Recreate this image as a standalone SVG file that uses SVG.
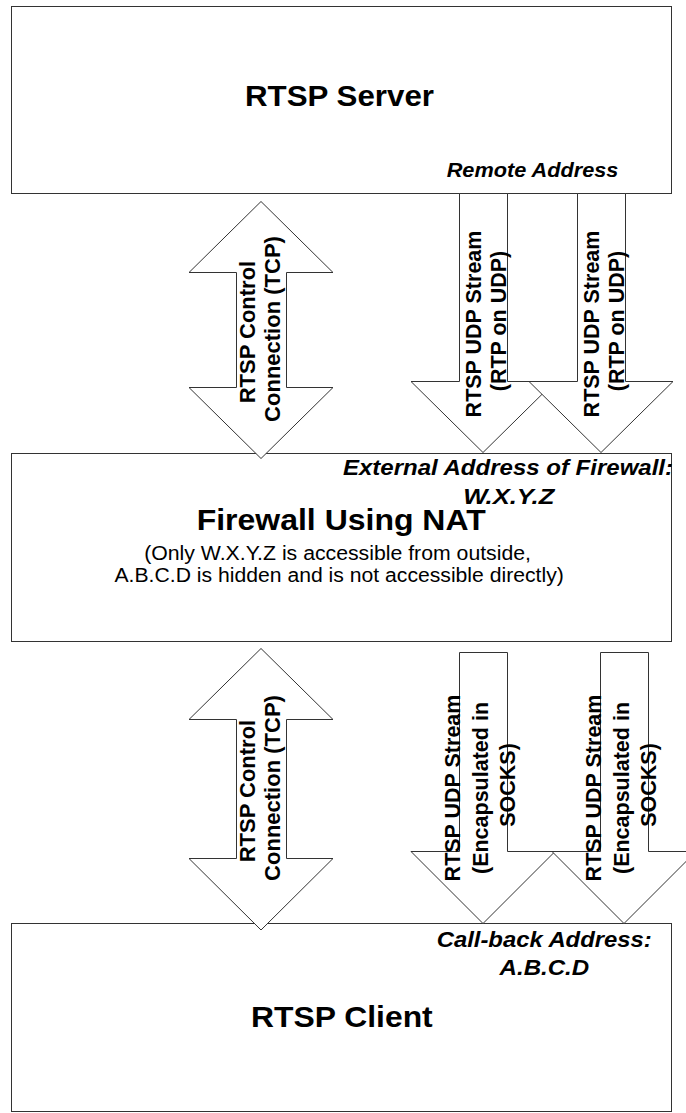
<svg xmlns="http://www.w3.org/2000/svg" width="686" height="1113" viewBox="0 0 686 1113">
  <style>
    .box { fill: #fff; stroke: #333; stroke-width: 1; }
    .arrow { fill: #fff; stroke: #333; stroke-width: 1; stroke-linejoin: miter; }
    text { font-family: "Liberation Sans", Arial, Helvetica, sans-serif; fill: #000; }
    .title { font-size: 30px; font-weight: bold; }
    .addr { font-size: 22.5px; font-weight: bold; font-style: italic; }
    .addr-sm { font-size: 20.5px; font-weight: bold; font-style: italic; }
    .note { font-size: 20px; }
    .flow { font-size: 21.5px; font-weight: bold; text-anchor: middle; }
    .flow-lg { font-size: 22px; font-weight: bold; text-anchor: middle; }
  </style>

  <rect width="686" height="1113" fill="#fff"/>

  <!-- RTSP server -->
  <g id="server">
    <rect class="box" x="11.5" y="6.5" width="660" height="187"/>
    <text class="title" x="245" y="106" textLength="189" lengthAdjust="spacingAndGlyphs">RTSP Server</text>
    <text class="addr-sm" x="446.7" y="176.7" textLength="171.7" lengthAdjust="spacingAndGlyphs">Remote Address</text>
  </g>

  <!-- NAT firewall -->
  <g id="firewall">
    <rect class="box" x="11.5" y="453.5" width="660" height="188"/>
    <text class="addr" x="343" y="475" textLength="330" lengthAdjust="spacingAndGlyphs">External Address of Firewall:</text>
    <text class="addr" x="463.3" y="503.5" textLength="91" lengthAdjust="spacingAndGlyphs">W.X.Y.Z</text>
    <text class="title" x="196.7" y="530" textLength="289" lengthAdjust="spacingAndGlyphs">Firewall Using NAT</text>
    <text class="note" x="144.2" y="560" textLength="386.8" lengthAdjust="spacingAndGlyphs">(Only W.X.Y.Z is accessible from outside,</text>
    <text class="note" x="114.5" y="581.7" textLength="449.3" lengthAdjust="spacingAndGlyphs">A.B.C.D is hidden and is not accessible directly)</text>
  </g>

  <!-- RTSP client -->
  <g id="client">
    <rect class="box" x="11.5" y="923.5" width="660" height="188"/>
    <text class="addr" x="436.7" y="946.5" textLength="215" lengthAdjust="spacingAndGlyphs">Call-back Address:</text>
    <text class="addr" x="499.6" y="975" textLength="89.6" lengthAdjust="spacingAndGlyphs">A.B.C.D</text>
    <text class="title" x="251" y="1027" textLength="181.7" lengthAdjust="spacingAndGlyphs">RTSP Client</text>
  </g>

  <!-- block arrows between the boxes -->
  <g id="connectors">
    <!-- server <-> firewall control channel -->
    <polygon class="arrow" points="261,201.5 333,272.5 286.5,272.5 286.5,387.5 333,387.5 261,458.5 189,387.5 236.5,387.5 236.5,272.5 189,272.5"/>
    <text class="flow-lg" transform="translate(254.5 329) rotate(-90)">
      <tspan x="0" y="0">RTSP Control</tspan>
      <tspan x="0" y="25">Connection (TCP)</tspan>
    </text>

    <!-- server -> firewall media streams -->
    <polygon class="arrow" points="459.5,193.5 507.5,193.5 507.5,381.5 555,381.5 483,452.5 411,381.5 459.5,381.5"/>
    <polygon class="arrow" points="577.5,193.5 625.5,193.5 625.5,381.5 673,381.5 601,452.5 529,381.5 577.5,381.5"/>
    <text class="flow" transform="translate(480.5 321) rotate(-90)">
      <tspan x="0" y="0">RTSP UDP Stream</tspan>
      <tspan x="0" y="25.5">(RTP on UDP)</tspan>
    </text>
    <text class="flow" transform="translate(598.5 321) rotate(-90)">
      <tspan x="0" y="0">RTSP UDP Stream</tspan>
      <tspan x="0" y="25.5">(RTP on UDP)</tspan>
    </text>

    <!-- firewall <-> client control channel -->
    <polygon class="arrow" points="261,648.5 333,719.5 286.5,719.5 286.5,858.5 333,858.5 261,930 189,858.5 236.5,858.5 236.5,719.5 189,719.5"/>
    <text class="flow-lg" transform="translate(254.5 788) rotate(-90)">
      <tspan x="0" y="0">RTSP Control</tspan>
      <tspan x="0" y="25">Connection (TCP)</tspan>
    </text>

    <!-- firewall -> client SOCKS-wrapped streams -->
    <polygon class="arrow" points="459.5,652.5 507.5,652.5 507.5,851.5 555,851.5 483,923.5 411,851.5 459.5,851.5"/>
    <polygon class="arrow" points="600.5,652.5 648.5,652.5 648.5,851.5 696,851.5 624,923.5 552,851.5 600.5,851.5"/>
    <text class="flow" transform="translate(460 785) rotate(-90)">
      <tspan x="0" y="0">RTSP UDP Stream</tspan>
      <tspan x="0" y="27.5">(Encapsulated in</tspan>
      <tspan x="0" y="55">SOCKS)</tspan>
    </text>
    <text class="flow" transform="translate(601 785) rotate(-90)">
      <tspan x="0" y="0">RTSP UDP Stream</tspan>
      <tspan x="0" y="27.5">(Encapsulated in</tspan>
      <tspan x="0" y="55">SOCKS)</tspan>
    </text>
  </g>
</svg>
